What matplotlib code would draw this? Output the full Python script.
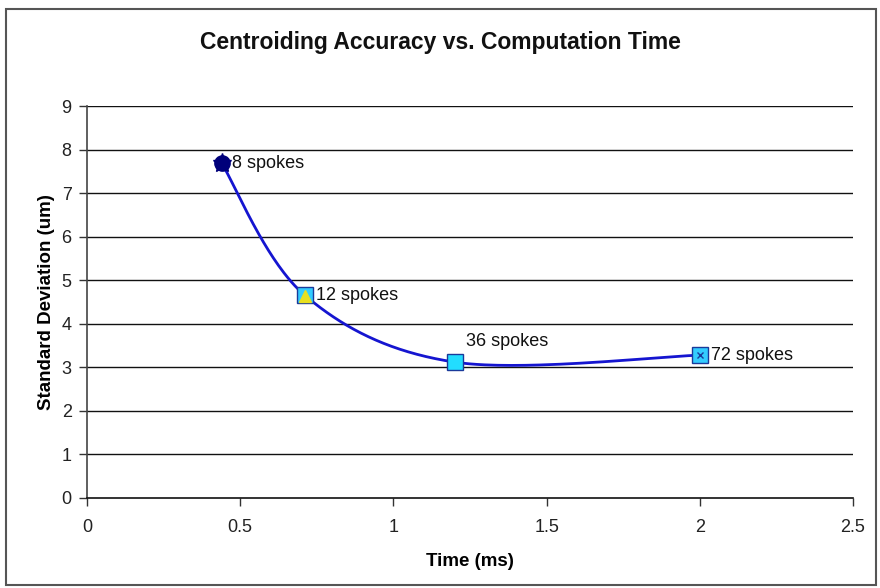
import numpy as np
import matplotlib
matplotlib.use("Agg")
import matplotlib.pyplot as plt
from matplotlib.patches import Rectangle

# Data
time_ms = [0.44, 0.71, 1.20, 2.00]
std_dev = [7.68, 4.66, 3.12, 3.28]
labels = ["8 spokes", "12 spokes", "36 spokes", "72 spokes"]
xticks = [0, 0.5, 1, 1.5, 2, 2.5]
xtick_labels = ["0", "0.5", "1", "1.5", "2", "2.5"]
yticks = list(range(0, 10))

plt.rcParams['font.family'] = ['Liberation Sans', 'DejaVu Sans']

fig = plt.figure(figsize=(8.8, 5.88), dpi=100)
fig.patches.append(Rectangle((6/880, 1 - 585/588), 870/880, 576/588, transform=fig.transFigure,
                             fill=False, edgecolor='#555555', linewidth=1.5))
ax = fig.add_axes([87/880, 1 - 498/588, (853-87)/880, (498-106)/588])
ax.set_xlim(0, 2.5)
ax.set_ylim(0, 9)

# Excel-style smoothed line (Bezier through points), computed in pixel-scaled space
sx, sy = 306.4, 43.6
P = np.column_stack([np.array(time_ms) * sx, np.array(std_dev) * sy])
curve = []
n = len(P)
t = np.linspace(0, 1, 60)
for i in range(n - 1):
    p0 = P[i - 1] if i > 0 else P[i]
    p1 = P[i]
    p2 = P[i + 1]
    p3 = P[i + 2] if i + 2 < n else P[i + 1]
    c1 = p1 + (p2 - p0) / 6
    c2 = p2 - (p3 - p1) / 6
    seg = ((1 - t)[:, None] ** 3 * p1 + 3 * ((1 - t) ** 2 * t)[:, None] * c1
           + 3 * ((1 - t) * t ** 2)[:, None] * c2 + (t ** 3)[:, None] * p2)
    curve.append(seg)
curve = np.vstack(curve)
ax.plot(curve[:, 0] / sx, curve[:, 1] / sy, color='#1515D0', linewidth=2, zorder=3)

# Markers
ax.plot(time_ms[0], std_dev[0], marker='o', markersize=11, color='#00007A',
        markeredgecolor='#00007A', zorder=4, linestyle='none')
ax.plot(time_ms[0], std_dev[0], marker='*', markersize=14, color='#00007A', zorder=4, linestyle='none')
ax.plot(time_ms[1], std_dev[1], marker='s', markersize=11, markerfacecolor='#33CCFF',
        markeredgecolor='#1a3a9a', zorder=4, linestyle='none')
ax.plot(time_ms[1], std_dev[1] - 0.02, marker='^', markersize=8, color='#E8E020', zorder=5, linestyle='none')
ax.plot(time_ms[2], std_dev[2], marker='s', markersize=11, markerfacecolor='#22DDFF',
        markeredgecolor='#1a3a9a', zorder=4, linestyle='none')
ax.plot(time_ms[3], std_dev[3], marker='s', markersize=11, markerfacecolor='#33CCFF',
        markeredgecolor='#1a3a9a', zorder=4, linestyle='none')
ax.plot(time_ms[3], std_dev[3], marker='x', markersize=5, color='#1a3a9a', zorder=5, linestyle='none',
        markeredgewidth=1)

# Labels
offsets = [(7, 0, 'left', 'center'), (8, 0, 'left', 'center'),
           (8, 9, 'left', 'bottom'), (8, 0, 'left', 'center')]
for x, y, lab, (dx, dy, ha, va) in zip(time_ms, std_dev, labels, offsets):
    ax.annotate(lab, (x, y), xytext=(dx, dy), textcoords='offset points',
                ha=ha, va=va, fontsize=13, color='#111111')

# Grid and axes
for yv in yticks[1:]:
    ax.axhline(yv, color='#111111', linewidth=1, zorder=1)
for s in ['top', 'right']:
    ax.spines[s].set_visible(False)
ax.spines['left'].set_color('#444444')
ax.spines['bottom'].set_color('#111111')
ax.spines['left'].set_linewidth(1.2)
ax.spines['bottom'].set_linewidth(1.2)
ax.set_xticks(xticks)
ax.set_xticklabels(xtick_labels)
ax.set_yticks(yticks)
ax.tick_params(direction='out', length=6, width=1, colors='#333333', labelsize=13, pad=5,
               labelcolor='#222222')
ax.tick_params(axis='x', pad=9)

ax.set_xlabel("Time (ms)", fontsize=13.5, fontweight='bold', labelpad=12)
ax.set_ylabel("Standard Deviation (um)", fontsize=13.5, fontweight='bold', labelpad=5)
fig.text(0.5, 1 - 43/588, "Centroiding Accuracy vs. Computation Time", ha='center', va='center',
         fontsize=16.5, fontweight='bold', color='#111111')

fig.savefig("out.png", dpi=100)
